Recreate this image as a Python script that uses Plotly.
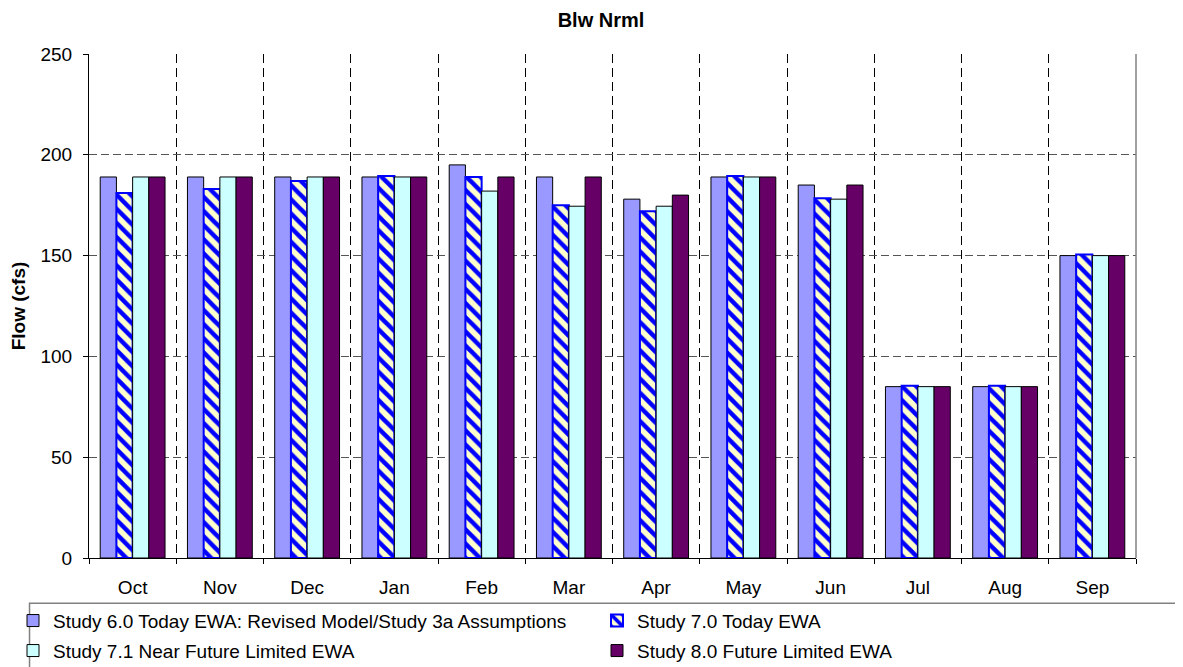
import plotly.graph_objects as go

months = ["Oct", "Nov", "Dec", "Jan", "Feb", "Mar", "Apr", "May", "Jun", "Jul", "Aug", "Sep"]
study_60 = [189, 189, 189, 189, 195, 189, 178, 189, 185, 85, 85, 150]
study_70 = [181, 183, 187, 189.5, 189, 175, 172, 189.5, 178.5, 85.5, 85.5, 150.5]
study_71 = [189, 189, 189, 189, 182, 174.5, 174.5, 189, 178, 85, 85, 150]
study_80 = [189, 189, 189, 189, 189, 189, 180, 189, 185, 85, 85, 150]

names = [
    "Study 6.0 Today EWA: Revised Model/Study 3a Assumptions",
    "Study 7.0 Today EWA",
    "Study 7.1 Near Future Limited EWA",
    "Study 8.0 Future Limited EWA",
]
y_ticks = [0, 50, 100, 150, 200, 250]

FONT = "Arial, Liberation Sans, sans-serif"
PAGE_W, PAGE_H = 1183, 667
OFF = 8  # default page body margin
W, H = PAGE_W - OFF, PAGE_H - OFF
# plot area in page pixels
L, R, T, B = 88.5, 1136, 54, 558
COL1_W, COL2_W = 539, 300

fig = go.Figure()
fig.add_trace(go.Bar(x=months, y=study_60, name=names[0], legend="legend2", legendwidth=COL1_W,
                     marker=dict(color="#9999FF", line=dict(color="#000000", width=1))))
fig.add_trace(go.Bar(x=months, y=study_70, name=names[1], legend="legend2", legendwidth=COL2_W,
                     marker=dict(color="#FFFFCC", line=dict(color="#0000FF", width=2),
                                 pattern=dict(shape="\\", fgcolor="#0000FF", bgcolor="#FFFFCC",
                                              size=10, solidity=0.45, fillmode="replace"))))
fig.add_trace(go.Bar(x=months, y=study_71, name=names[2], legend="legend3", legendwidth=COL1_W,
                     marker=dict(color="#CCFFFF", line=dict(color="#000000", width=1))))
fig.add_trace(go.Bar(x=months, y=study_80, name=names[3], legend="legend3", legendwidth=COL2_W,
                     marker=dict(color="#660066", line=dict(color="#000000", width=1))))

def px_x(p):
    return (p - L) / (R - L)

def px_y(p):
    return (B - p) / (B - T)

def cx(p):
    return (p - OFF) / W

def cy(p):
    return 1 - (p - OFF) / H

leg_common = dict(orientation="h", xref="container", yref="container",
                  xanchor="left", yanchor="middle", bgcolor="rgba(0,0,0,0)",
                  borderwidth=0, font=dict(family=FONT, size=19, color="#000000"),
                  itemwidth=30)

fig.update_layout(
    width=W, height=H,
    margin=dict(l=L - OFF, r=PAGE_W - R, t=T - OFF, b=PAGE_H - B, autoexpand=False),
    paper_bgcolor="#FFFFFF", plot_bgcolor="#FFFFFF",
    barmode="group", bargap=0.257, bargroupgap=0,
    font=dict(family=FONT, size=19, color="#000000"),
    title=dict(text="<b>Blw Nrml</b>", x=cx(601), xref="container", xanchor="center",
               y=cy(19.7), yref="container", yanchor="middle",
               font=dict(family=FONT, size=20, color="#000000")),
    xaxis=dict(type="category", tickson="boundaries", showgrid=True, gridcolor="#000000",
               griddash="9px,5px", gridwidth=1, ticks="outside", ticklen=5, tickcolor="#000000",
               showline=True, linecolor="#000000", linewidth=1, ticklabelstandoff=12,
               tickfont=dict(family=FONT, size=19, color="#000000")),
    yaxis=dict(range=[0, 250], tickvals=y_ticks, showgrid=True, gridcolor="#555555",
               griddash="8px,4px", gridwidth=1, ticks="outside", ticklen=5, tickcolor="#000000",
               showline=True, linecolor="#000000", linewidth=1, zeroline=False,
               ticklabelstandoff=7, tickfont=dict(family=FONT, size=19, color="#000000"),
               title=dict(text="<b>Flow (cfs)</b>", standoff=10,
                          font=dict(family=FONT, size=19, color="#000000"))),
    showlegend=True,
    legend=dict(visible=False),
    legend2=dict(x=cx(13), y=cy(620.7), **leg_common),
    legend3=dict(x=cx(13), y=cy(650.7), **leg_common),
    shapes=[
        dict(type="line", xref="paper", yref="paper", x0=1, x1=1, y0=0, y1=1,
             line=dict(color="#808080", width=1.5)),
        dict(type="rect", xref="paper", yref="paper",
             x0=px_x(29), x1=px_x(1200), y0=px_y(603.3), y1=px_y(700),
             line=dict(color="#808080", width=1.5), fillcolor="rgba(0,0,0,0)", layer="below"),
    ],
)

fig.write_html("out.html")
